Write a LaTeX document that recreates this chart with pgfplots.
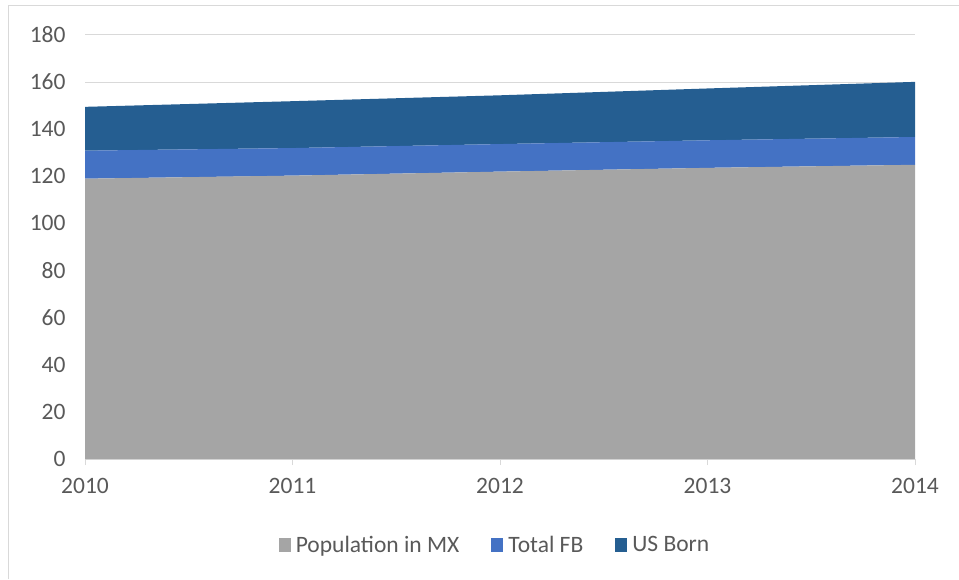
\documentclass[border=0pt]{standalone}
\usepackage{pgfplots}
\pgfplotsset{compat=1.18}
\usepackage{fontspec}
\setmainfont{Carlito}
\definecolor{cgray}{HTML}{A5A5A5}
\definecolor{cblue}{HTML}{4472C4}
\definecolor{cdark}{HTML}{255E91}
\definecolor{gridgray}{HTML}{D9D9D9}
\definecolor{txt}{HTML}{595959}
\begin{document}
\begin{tikzpicture}[x=1pt,y=1pt]
\useasboundingbox (0,0) rectangle (959,579);
\draw[gridgray,line width=1pt] (8.5,0) -- (8.5,573) -- (959,573);
\begin{axis}[
  at={(85pt,120pt)}, anchor=south west,
  scale only axis, width=830pt, height=424pt,
  xmin=2010, xmax=2014, ymin=0, ymax=180,
  xtick={2010,2011,2012,2013,2014},
  ytick={0,20,...,180},
  stack plots=y, area style,
  axis on top=false,
  axis line style={draw=none},
  axis x line*=bottom,
  x axis line style={draw=gridgray, line width=1pt},
  ymajorgrids, grid style={gridgray, line width=1pt},
  tick align=outside,
  xtick style={draw=gridgray, line width=1pt},
  major tick length=6pt,
  ytick style={draw=none},
  tick label style={font=\fontsize{23.5}{26}\selectfont, text=txt},
  /pgf/number format/assume math mode=true,
  /pgf/number format/1000 sep={},
  xticklabel style={yshift=-10pt},
  yticklabel style={xshift=-10pt},
  legend style={at={(0.494,-0.203)}, anchor=center, draw=none, fill=none,
    font=\fontsize{23.5}{26}\selectfont, text=txt, legend columns=3,
    /tikz/every odd column/.append style={column sep=3pt},
    /tikz/every even column/.append style={column sep=30pt}},
  legend image code/.code={\fill[#1] (0pt,-7pt) rectangle (12pt,7pt);},
  legend cell align=left,
]
\addplot[fill=cgray, draw=none] coordinates {(2010,119.0) (2011,120.3) (2012,122.0) (2013,123.6) (2014,124.9)} \closedcycle;
\addplot[fill=cblue, draw=none] coordinates {(2010,11.9) (2011,11.7) (2012,11.7) (2013,11.7) (2014,11.8)} \closedcycle;
\addplot[fill=cdark, draw=none] coordinates {(2010,18.6) (2011,19.9) (2012,20.7) (2013,22.0) (2014,23.4)} \closedcycle;
\legend{Population in MX, Total FB, US Born}
\end{axis}
\end{tikzpicture}
\end{document}
